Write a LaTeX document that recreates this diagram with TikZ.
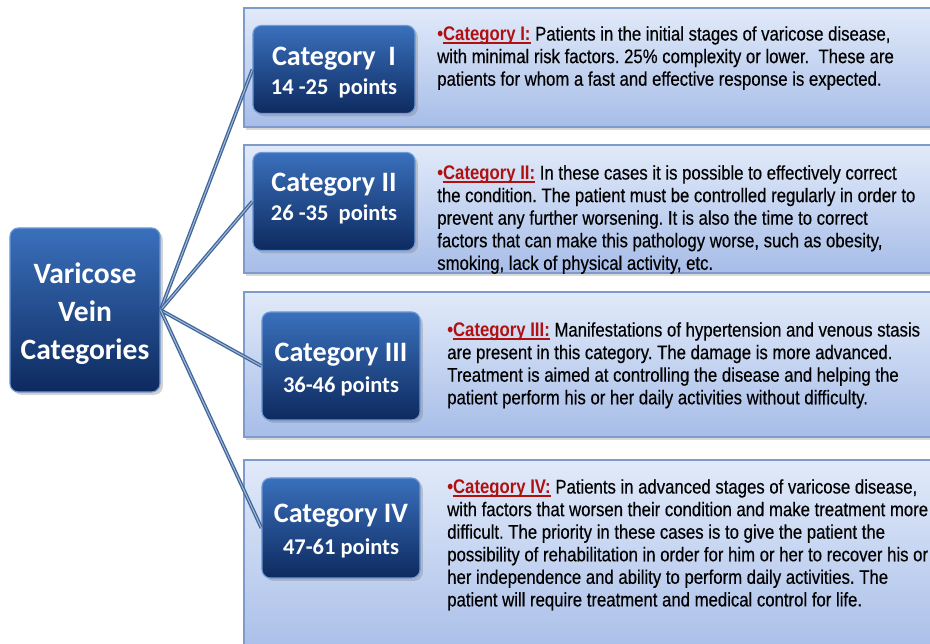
\documentclass[tikz,border=0pt]{standalone}
\usepackage{fontspec}
\setmainfont{Liberation Sans}
\newfontfamily\bodyfont[FakeStretch=0.85, UprightFeatures={FakeBold=0.4}]{Liberation Sans}
\newfontfamily\headfont{Carlito}
\usetikzlibrary{shadows}
\frenchspacing

\definecolor{panelTop}{HTML}{E1EAF9}
\definecolor{panelBot}{HTML}{A7BDE8}
\definecolor{panelLine}{HTML}{7F9BCB}
\definecolor{btnTop}{HTML}{3A70BC}
\definecolor{btnBot}{HTML}{0D2A5F}
\definecolor{btnLine}{HTML}{6F9AD6}
\definecolor{linkBlue}{HTML}{3F679E}
\definecolor{catRed}{HTML}{B01010}

% red underlined label at the start of each text
\newsavebox\catbox
\newcommand\catul[1]{\sbox\catbox{#1}\rlap{\rule[-2.3pt]{\wd\catbox}{1.1pt}}\usebox\catbox}
\newcommand\catlabel[1]{\textcolor{catRed}{\bfseries\textbullet\catul{#1}}}

\tikzset{
  panel/.style={draw=panelLine, line width=0.8pt, top color=panelTop, bottom color=panelBot,
    drop shadow={opacity=0.3, shadow xshift=1.5pt, shadow yshift=-2pt}},
  btn/.style={rounded corners=6pt, draw=btnLine, line width=0.8pt, top color=btnTop, bottom color=btnBot,
    text=white, font=\headfont\bfseries, align=center, inner sep=0pt,
    drop shadow={opacity=0.35, shadow xshift=2pt, shadow yshift=-2pt}},
  body/.style={anchor=north west, align=left, inner sep=0pt, font=\bodyfont\fontsize{14}{16.05}\selectfont},
  link/.style={draw=linkBlue, line width=0.95pt, double=linkBlue!45!white, double distance=0.7pt}
}

\begin{document}
\begin{tikzpicture}[x=0.025cm, y=0.025cm]
  \useasboundingbox (0,0) rectangle (930,-644);
  \fill[white] (0,0) rectangle (930,-644);

  % four description panels
  \path[panel] (244,-8) rectangle (945,-127);
  \path[panel] (244,-145) rectangle (945,-273);
  \path[panel] (244,-292) rectangle (945,-437);
  \path[panel] (244,-460) rectangle (945,-660);

  % boxes
  \node[btn, minimum width=3.75cm, minimum height=4.1cm,
    font=\headfont\bfseries\fontsize{21}{27}\selectfont] (main) at (85,-310)
    {\rule{0pt}{20.5pt}Varicose\\ Vein\\ Categories};
  \node[btn, minimum width=4.05cm, minimum height=2.2cm] (cat1) at (334,-69.5)
    {\fontsize{20}{21}\selectfont \rule{0pt}{17pt}Category\ \ I\\[5pt] {\fontsize{16}{17}\selectfont 14 -25\ \ points}};
  \node[btn, minimum width=4.05cm, minimum height=2.45cm] (cat2) at (334,-201.5)
    {\fontsize{20}{21}\selectfont Category II\\[5pt] {\fontsize{16}{17}\selectfont 26 -35\ \ points\rule[-7.4pt]{0pt}{7.4pt}}};
  \node[btn, minimum width=3.95cm, minimum height=2.7cm] (cat3) at (341,-366)
    {\fontsize{20}{21}\selectfont \rule{0pt}{18.3pt}Category III\\[7pt] {\fontsize{16}{17}\selectfont 36-46 points}};
  \node[btn, minimum width=3.95cm, minimum height=2.5cm] (cat4) at (341,-528)
    {\fontsize{20}{21}\selectfont \rule{0pt}{17pt}Category IV\\[7pt] {\fontsize{16}{17}\selectfont 47-61 points}};

  % links
  \foreach \c in {cat1,cat2,cat3,cat4}
    \draw[link] (main.east) -- (\c.west);

  % texts
  \node[body] (t1) at (437,-26) {\catlabel{Category I:} Patients in the initial stages of varicose disease,\\
    with minimal risk factors. 25\% complexity or lower.\ \ These are\\
    patients for whom a fast and effective response is expected.};
  \node[body] (t2) at (437,-165) {\catlabel{Category II:} In these cases it is possible to effectively correct\\
    the condition. The patient must be controlled regularly in order to\\
    prevent any further worsening. It is also the time to correct\\
    factors that can make this pathology worse, such as obesity,\\
    smoking, lack of physical activity, etc.};
  \node[body] (t3) at (447,-322) {\catlabel{Category III:} Manifestations of hypertension and venous stasis\\
    are present in this category. The damage is more advanced.\\
    Treatment is aimed at controlling the disease and helping the\\
    patient perform his or her daily activities without difficulty.};
  \node[body] (t4) at (447,-479) {\catlabel{Category IV:} Patients in advanced stages of varicose disease,\\
    with factors that worsen their condition and make treatment more\\
    difficult. The priority in these cases is to give the patient the\\
    possibility of rehabilitation in order for him or her to recover his or\\
    her independence and ability to perform daily activities. The\\
    patient will require treatment and medical control for life.};
\end{tikzpicture}
\end{document}
